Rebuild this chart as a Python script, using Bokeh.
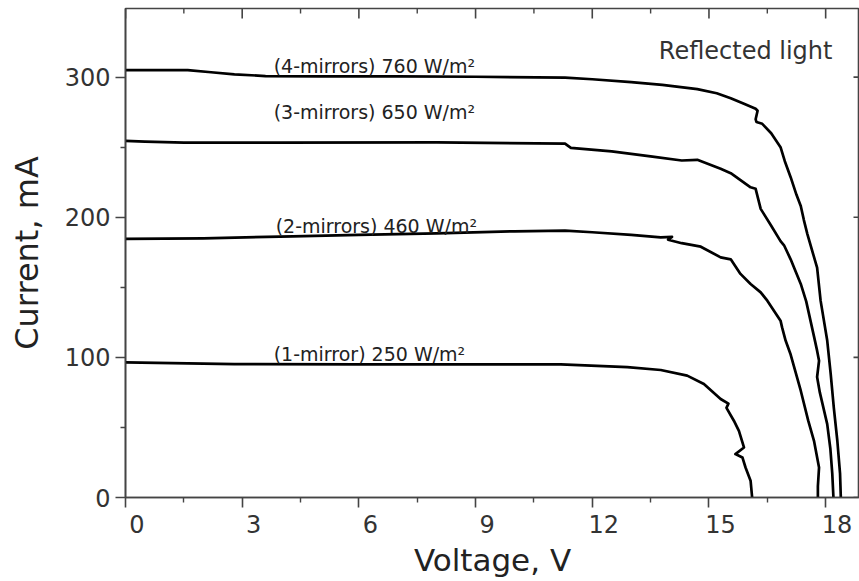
import math
from bokeh.plotting import figure
from bokeh.models import Range1d, FixedTicker
from bokeh.core.properties import value
from bokeh.embed import file_html
from bokeh.resources import INLINE

# ---- data (Voltage V, Current mA) ----
v4 = [0, 0.8, 1.6, 2.2, 2.8, 3.6, 5, 7, 9, 11.3, 12, 13, 13.8, 14.7, 15.2, 15.56, 15.9, 16.2,
      16.25, 16.2, 16.22, 16.37, 16.6, 16.84, 16.95, 17.1, 17.25, 17.36, 17.44, 17.53, 17.78,
      17.87, 18.04, 18.13, 18.21, 18.3, 18.37, 18.39]
i4 = [305, 305, 305, 303.5, 302, 300.8, 300.5, 300.5, 300.3, 299.6, 298.5, 296.4, 294.5, 291.5,
      288.5, 285, 281, 277.4, 276, 270, 268, 266.7, 260, 250, 240, 228.6, 216, 208, 198, 188,
      164, 140.5, 112, 88, 64, 40.5, 17, 0]

v3 = [0, 0.5, 1.5, 4, 8, 11.3, 11.45, 12.5, 13.5, 14.3, 14.7, 15.3, 15.56, 16.07, 16.2, 16.33,
      16.41, 16.6, 16.84, 16.93, 17.1, 17.36, 17.5, 17.7, 17.78, 17.83, 17.78, 17.85, 18.04,
      18.12, 18.17, 18.2]
i3 = [254.5, 254, 253.3, 253.3, 253.5, 252.5, 249.5, 247, 243.5, 240.5, 241, 234.6, 231.5, 221.4,
      220.3, 206, 202.4, 194, 183, 180, 170, 152.4, 140, 115, 104.8, 97.6, 86, 75, 52.4, 35, 17, 0]

v2 = [0, 2, 4.3, 6, 8, 10, 11.3, 12, 13, 13.76, 14.05, 13.95, 14.3, 14.79, 15.3, 15.56, 15.81,
      16.07, 16.33, 16.5, 16.84, 16.88, 16.97, 17.1, 17.36, 17.55, 17.7, 17.83, 17.8, 17.8]
i2 = [184.6, 185, 186.4, 187.5, 188.5, 190, 190.5, 189.3, 187.5, 185.7, 186, 184, 181.5, 179,
      171.4, 170, 159.6, 152.4, 146.4, 140.5, 126.2, 121.4, 112, 102, 76.2, 55, 40.5, 21.4, 8, 0]

v1 = [0, 2.8, 6, 9, 11.19, 12.9, 13.76, 14.44, 14.87, 15.3, 15.5, 15.45, 15.64, 15.77, 15.9,
      15.68, 15.86, 15.94, 16.07, 16.11]
i1 = [96.4, 95.2, 95, 95, 95, 93, 91, 87, 81, 70.3, 67, 64, 54.8, 47.6, 35.7, 31, 28.6, 21.4, 12, 0]

x_ticks = [0, 3, 6, 9, 12, 15, 18]
x_minor = [1.5, 4.5, 7.5, 10.5, 13.5, 16.5]
y_ticks = [0, 100, 200, 300]
y_minor = [50, 150, 250]

curve_labels = ["(4-mirrors) 760 W/m²", "(3-mirrors) 650 W/m²",
                "(2-mirrors) 460 W/m²", "(1-mirror) 250 W/m²"]
label_x = [3.81, 3.81, 3.86, 3.81]
label_y = [307.9, 275, 194, 102.4]

note_text = ["Reflected light"]
note_x = [13.71]
note_y = [319]

# ---- figure ----
FONT = "DejaVu Sans"
AX = "#444444"
X0, X1 = 0, 18.87
Y0, Y1 = 0, 349

p = figure(width=859, height=581, output_backend="svg", toolbar_location=None,
           x_range=Range1d(X0, X1), y_range=Range1d(Y0, Y1),
           min_border_left=125, min_border_right=0, min_border_top=8, min_border_bottom=84)
p.grid.visible = False
p.outline_line_color = AX
p.outline_line_width = 1.6
p.background_fill_color = "white"
p.border_fill_color = "white"

# bottom axis (in the original the tick numbers sit a little right of their ticks)
xa = p.xaxis[0]
xa.ticker = FixedTicker(ticks=x_ticks, minor_ticks=x_minor)
xa.major_label_overrides = {t: "\u00a0\u00a0\u00a0" + str(t) for t in x_ticks}
xa.major_tick_out = 10
xa.major_tick_in = 0
xa.minor_tick_out = 5
xa.minor_tick_in = 0
xa.major_label_standoff = 3
xa.major_label_text_font = FONT
xa.major_label_text_font_size = "24px"
xa.major_label_text_color = "#333333"
xa.axis_label = "Voltage, V"
xa.axis_label_standoff = 0
xa.axis_label_text_font = FONT
xa.axis_label_text_font_size = "31px"
xa.axis_label_text_font_style = "normal"
xa.axis_label_text_color = "#222222"

# left axis
ya = p.yaxis[0]
ya.ticker = FixedTicker(ticks=y_ticks, minor_ticks=y_minor)
ya.major_tick_out = 10
ya.major_tick_in = 0
ya.minor_tick_out = 5
ya.minor_tick_in = 0
ya.major_label_standoff = 5
ya.major_label_text_font = FONT
ya.major_label_text_font_size = "24px"
ya.major_label_text_color = "#333333"
ya.axis_label = "Current, mA"
ya.axis_label_standoff = 16
ya.axis_label_text_font = FONT
ya.axis_label_text_font_size = "32px"
ya.axis_label_text_font_style = "normal"
ya.axis_label_text_color = "#222222"

for a in [xa, ya]:
    a.axis_line_color = AX
    a.axis_line_width = 1.6
    a.major_tick_line_color = AX
    a.major_tick_line_width = 1.6
    a.minor_tick_line_color = AX
    a.minor_tick_line_width = 1.4

# inward ticks on the top and right frame edges (half of each dash is clipped by the frame)
p.scatter(x=x_ticks, y=[Y1] * len(x_ticks), marker="dash", angle=math.pi / 2, size=20,
          line_color=AX, line_width=1.6)
p.scatter(x=x_minor, y=[Y1] * len(x_minor), marker="dash", angle=math.pi / 2, size=10,
          line_color=AX, line_width=1.4)
p.scatter(x=[X1] * len(y_ticks), y=y_ticks, marker="dash", size=12,
          line_color=AX, line_width=1.6)

# curves
for vv, ii in [(v1, i1), (v2, i2), (v3, i3), (v4, i4)]:
    p.line(vv, ii, line_color="black", line_width=2.7, line_join="round")

p.text(x=label_x, y=label_y, text=curve_labels, text_font=value(FONT), text_font_size="19px",
       text_align="left", text_baseline="alphabetic", text_color="#222222")
p.text(x=note_x, y=note_y, text=note_text, text_font=value(FONT), text_font_size="24px",
       text_align="left", text_baseline="alphabetic", text_color="#333333")

open("out.html", "w").write(file_html(p, INLINE))
